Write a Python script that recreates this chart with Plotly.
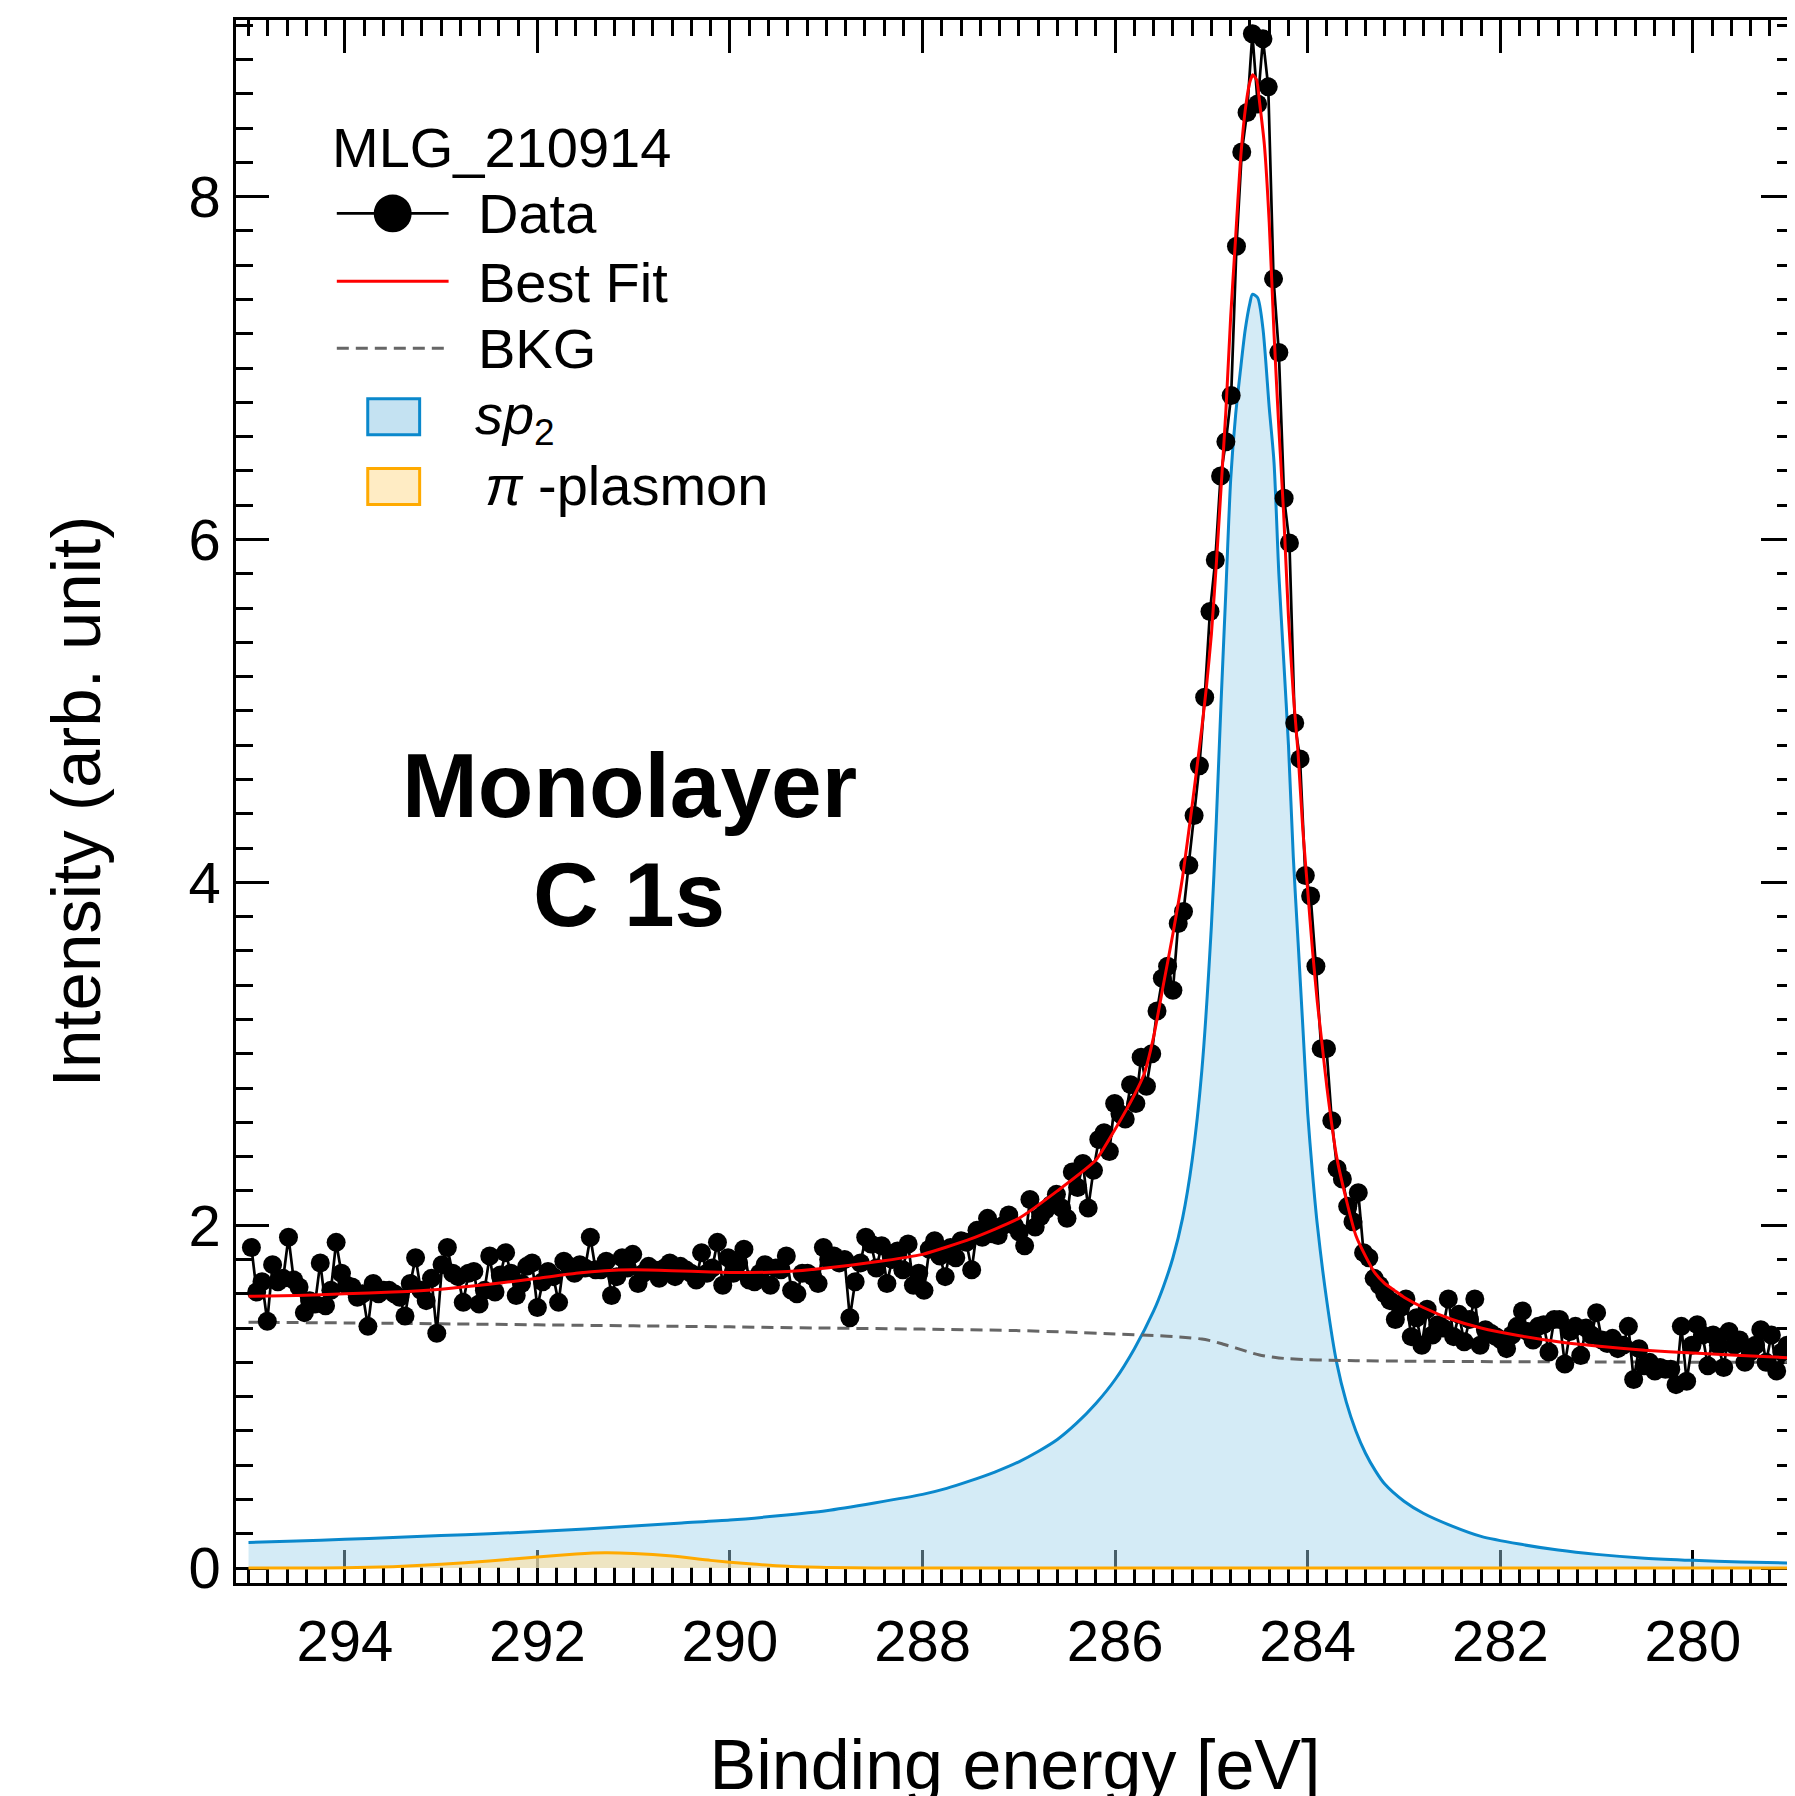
import plotly.graph_objects as go

# ---------------- data ----------------
E_START = 294.97   # first sample (eV)
E_STEP = 0.055     # sampling step (eV)

data_I = [
    1.87, 1.61, 1.67, 1.44, 1.77, 1.67, 1.69, 1.93, 1.68, 1.64,
    1.49, 1.56, 1.54, 1.78, 1.53, 1.62, 1.90, 1.72, 1.65, 1.64,
    1.58, 1.60, 1.41, 1.66, 1.60, 1.62, 1.62, 1.60, 1.58, 1.47,
    1.66, 1.81, 1.62, 1.56, 1.69, 1.37, 1.77, 1.87, 1.72, 1.70,
    1.55, 1.72, 1.73, 1.54, 1.62, 1.82, 1.61, 1.71, 1.84, 1.72,
    1.59, 1.66, 1.76, 1.78, 1.52, 1.67, 1.73, 1.70, 1.55, 1.79,
    1.76, 1.72, 1.77, 1.75, 1.93, 1.74, 1.74, 1.79, 1.59, 1.70,
    1.81, 1.75, 1.83, 1.66, 1.72, 1.76, 1.74, 1.69, 1.75, 1.78,
    1.70, 1.76, 1.74, 1.72, 1.68, 1.84, 1.72, 1.75, 1.90, 1.65,
    1.81, 1.72, 1.78, 1.86, 1.68, 1.67, 1.72, 1.77, 1.65, 1.75,
    1.74, 1.82, 1.62, 1.60, 1.72, 1.72, 1.70, 1.66, 1.87, 1.80,
    1.82, 1.78, 1.80, 1.46, 1.67, 1.78, 1.93, 1.89, 1.75, 1.88,
    1.66, 1.80, 1.85, 1.74, 1.89, 1.65, 1.72, 1.62, 1.86, 1.91,
    1.82, 1.70, 1.87, 1.81, 1.91, 1.90, 1.74, 1.97, 1.93, 2.04,
    1.95, 1.94, 2.00, 2.06, 2.00, 1.96, 1.88, 2.15, 1.99, 2.05,
    2.09, 2.12, 2.18, 2.10, 2.04, 2.31, 2.22, 2.36, 2.10, 2.32,
    2.50, 2.54, 2.43, 2.71, 2.65, 2.62, 2.82, 2.71, 2.98, 2.81,
    3.00, 3.25, 3.44, 3.51, 3.37, 3.76, 3.83, 4.10, 4.39, 4.68,
    5.08, 5.58, 5.88, 6.37, 6.57, 6.84, 7.71, 8.26, 8.49, 8.95,
    8.54, 8.92, 8.64, 7.52, 7.09, 6.24, 5.98, 4.93, 4.72, 4.04,
    3.92, 3.51, 3.03, 3.03, 2.61, 2.33, 2.27, 2.11, 2.02, 2.19,
    1.84, 1.81, 1.69, 1.65, 1.60, 1.56, 1.45, 1.52, 1.57, 1.35,
    1.46, 1.30, 1.51, 1.36, 1.42, 1.40, 1.57, 1.35, 1.48, 1.32,
    1.45, 1.57, 1.30, 1.39, 1.37, 1.35, 1.33, 1.28, 1.36, 1.41,
    1.50, 1.38, 1.33, 1.41, 1.42, 1.26, 1.45, 1.45, 1.19, 1.38,
    1.41, 1.24, 1.40, 1.36, 1.49, 1.33, 1.31, 1.34, 1.28, 1.30,
    1.41, 1.10, 1.28, 1.18, 1.20, 1.15, 1.17, 1.16, 1.16, 1.07,
    1.41, 1.09, 1.30, 1.42, 1.36, 1.18, 1.36, 1.30, 1.17, 1.38,
    1.30, 1.33, 1.20, 1.26, 1.30, 1.39, 1.20, 1.36, 1.15, 1.26,
    1.30,
]
data_E = [round(E_START - i * E_STEP, 3) for i in range(len(data_I))]

fit_E = [295.0, 294.5, 294.0, 293.5, 293.0, 292.5, 292.0, 291.6, 291.3, 291.0,
         290.6, 290.2, 289.8, 289.4, 289.0, 288.5, 288.0, 287.5, 287.0, 286.6,
         286.2, 286.0, 285.8, 285.7, 285.6, 285.5, 285.4, 285.3, 285.2, 285.1,
         285.05, 285.0, 284.95, 284.9, 284.85, 284.8, 284.75, 284.7, 284.65, 284.6,
         284.57, 284.53, 284.5, 284.45, 284.4, 284.35, 284.3, 284.25, 284.2, 284.15,
         284.1, 284.05, 284.0, 283.95, 283.9, 283.85, 283.8, 283.7, 283.6, 283.5,
         283.4, 283.3, 283.2, 283.1, 283.0, 282.8, 282.5, 282.2, 281.8, 281.4,
         281.0, 280.5, 280.0, 279.5, 279.0]
fit_I = [1.585, 1.59, 1.60, 1.61, 1.627, 1.655, 1.69, 1.72, 1.735, 1.74,
         1.735, 1.727, 1.724, 1.73, 1.75, 1.785, 1.83, 1.92, 2.04, 2.2,
         2.38, 2.56, 2.76, 2.88, 3.1, 3.4, 3.7, 4.03, 4.45, 4.9,
         5.15, 5.45, 5.85, 6.3, 6.75, 7.3, 7.75, 8.2, 8.5, 8.67,
         8.71, 8.68, 8.55, 8.3, 7.85, 7.2, 6.65, 6.15, 5.55, 5.1,
         4.75, 4.3, 3.95, 3.6, 3.3, 3.05, 2.8, 2.4, 2.15, 1.94,
         1.82, 1.72, 1.66, 1.62, 1.58, 1.52, 1.45, 1.40, 1.355, 1.32,
         1.295, 1.27, 1.255, 1.24, 1.227]

bkg_E = [295.0, 294.0, 293.0, 292.0, 291.0, 290.0, 289.0, 288.0, 287.0, 286.5,
         286.0, 285.6, 285.3, 285.1, 285.0, 284.9, 284.8, 284.7, 284.6, 284.5,
         284.4, 284.3, 284.2, 284.0, 283.8, 283.5, 283.0, 282.0, 281.0, 280.0,
         279.0]
bkg_I = [1.434, 1.430, 1.425, 1.419, 1.413, 1.407, 1.400, 1.394, 1.385, 1.377,
         1.366, 1.357, 1.347, 1.336, 1.325, 1.31, 1.293, 1.276, 1.258, 1.243,
         1.233, 1.226, 1.221, 1.216, 1.213, 1.21, 1.207, 1.204, 1.202, 1.201,
         1.200]

sp2_E = [295.0, 294.5, 294.0, 293.5, 293.0, 292.5, 292.0, 291.5, 291.0, 290.5,
         290.0, 289.5, 289.0, 288.5, 288.0, 287.75, 287.5, 287.25, 287.0, 286.8,
         286.6, 286.4, 286.2, 286.0, 285.8, 285.6, 285.5, 285.4, 285.3, 285.2,
         285.1, 285.0, 284.95, 284.9, 284.85, 284.8, 284.75, 284.7, 284.65, 284.6,
         284.575, 284.52, 284.465, 284.4, 284.35, 284.3, 284.25, 284.2, 284.15, 284.1,
         284.05, 284.0, 283.95, 283.9, 283.8, 283.7, 283.6, 283.5, 283.4, 283.3,
         283.2, 283.0, 282.8, 282.5, 282.2, 281.8, 281.4, 281.0, 280.5, 280.0,
         279.5, 279.0]
sp2_I = [0.149, 0.158, 0.168, 0.178, 0.19, 0.2, 0.213, 0.228, 0.245, 0.263,
         0.28, 0.305, 0.335, 0.38, 0.43, 0.465, 0.51, 0.56, 0.62, 0.68,
         0.75, 0.845, 0.96, 1.10, 1.28, 1.50, 1.64, 1.81, 2.04, 2.38,
         2.90, 3.75, 4.35, 5.05, 5.7, 6.35, 6.72, 6.98, 7.22, 7.38,
         7.43, 7.41, 7.23, 6.77, 6.45, 5.8, 5.3, 4.8, 4.15, 3.65,
         3.15, 2.65, 2.3, 2.0, 1.55, 1.2, 0.97, 0.8, 0.67, 0.57,
         0.49, 0.39, 0.32, 0.245, 0.185, 0.14, 0.105, 0.08, 0.058, 0.045,
         0.036, 0.03]

pl_E = [295.0, 294.5, 294.0, 293.5, 293.0, 292.5, 292.0, 291.6, 291.3, 291.0,
        290.6, 290.2, 289.8, 289.4, 289.0, 288.5, 288.0, 279.0]
pl_I = [0.0, 0.0005, 0.002, 0.008, 0.022, 0.042, 0.065, 0.082, 0.089, 0.085,
        0.07, 0.045, 0.025, 0.01, 0.004, 0.001, 0.0, 0.0]

x_major_ticks = 2
x_mid_ticks = 1
x_minor_ticks = 0.2
y_major_ticks = 2
y_mid_ticks = 1
y_minor_ticks = 0.2

# ---------------- styling ----------------
W, H = 1795, 1796
OFF = 8                      # page body margin offset
ML, MR, MT, MB = 228, 6, 12, 216
X_RANGE = [295.13, 278.95]
Y_RANGE = [-0.087, 9.03]
FONT = "Liberation Sans, Arial, Helvetica, sans-serif"

C_SP2 = "#0a88cc"
F_SP2 = "rgba(160,210,235,0.45)"
C_PL = "#ffaa00"
F_PL = "rgba(255,225,160,0.6)"
C_BKG = "#666666"

fig = go.Figure()
fig.add_trace(go.Scatter(x=sp2_E, y=sp2_I, mode="lines", name="sp2",
                         line=dict(color=C_SP2, width=3, shape="spline", smoothing=0.7),
                         fill="tozeroy", fillcolor=F_SP2, showlegend=False))
fig.add_trace(go.Scatter(x=pl_E, y=pl_I, mode="lines", name="π-plasmon",
                         line=dict(color=C_PL, width=3, shape="spline", smoothing=0.6),
                         fill="tozeroy", fillcolor=F_PL, showlegend=False))
fig.add_trace(go.Scatter(x=bkg_E, y=bkg_I, mode="lines", name="BKG",
                         line=dict(color=C_BKG, width=3, dash="12px,7px",
                                   shape="spline", smoothing=0.6),
                         showlegend=False))
fig.add_trace(go.Scatter(x=data_E, y=data_I, mode="lines+markers", name="Data",
                         line=dict(color="black", width=2.7),
                         marker=dict(color="black", size=19, line=dict(width=0)),
                         showlegend=False))
fig.add_trace(go.Scatter(x=fit_E, y=fit_I, mode="lines", name="Best Fit",
                         line=dict(color="#ff0000", width=3, shape="spline", smoothing=0.5),
                         showlegend=False))

common = dict(showline=True, linecolor="black", linewidth=2.5, mirror="allticks",
              ticks="inside", tickcolor="black", tickwidth=2.5,
              showgrid=False, zeroline=False, layer="below traces",
              tickfont=dict(family=FONT, size=58, color="black"))

fig.update_layout(
    width=W, height=H,
    margin=dict(l=ML, r=MR, t=MT, b=MB, pad=0),
    paper_bgcolor="white", plot_bgcolor="white",
    font=dict(family=FONT, color="black"),
    showlegend=False,
    xaxis=dict(range=X_RANGE, dtick=x_major_ticks, tick0=0, ticklen=33,
               minor=dict(ticks="inside", dtick=x_minor_ticks, tick0=0, ticklen=16,
                          tickwidth=2.5, tickcolor="black", showgrid=False),
               ticklabelstandoff=6,
               title=dict(text="Binding energy [eV]", font=dict(family=FONT, size=70),
                          standoff=76),
               **common),
    xaxis2=dict(range=X_RANGE, overlaying="x", anchor="y", dtick=x_mid_ticks, tick0=0,
                ticklen=25, showticklabels=False, **common),
    yaxis=dict(range=Y_RANGE, dtick=y_major_ticks, tick0=0, ticklen=33,
               minor=dict(ticks="inside", dtick=y_minor_ticks, tick0=0, ticklen=17,
                          tickwidth=2.5, tickcolor="black", showgrid=False),
               ticklabelstandoff=1,
               title=dict(text="Intensity (arb. unit)", font=dict(family=FONT, size=69),
                          standoff=66),
               **common),
    yaxis2=dict(range=Y_RANGE, overlaying="y", anchor="x", dtick=y_mid_ticks, tick0=0,
                ticklen=25, showticklabels=False, **common),
)

# ---------------- in-plot text (positions given in page pixels) ----------------
def px_x(x):
    return (x - OFF - ML) / (W - ML - MR)

def px_y(y):
    return (H - MB - (y - OFF)) / (H - MB - MT)

annos = [
    dict(text="<b>Monolayer</b>", x=px_x(630), y=px_y(788), size=91, xanchor="center"),
    dict(text="<b>C 1s</b>", x=px_x(630), y=px_y(897), size=91, xanchor="center"),
    dict(text="MLG_210914", x=px_x(330), y=px_y(147.6), size=56, xanchor="left"),
    dict(text="Data", x=px_x(476.5), y=px_y(214.3), size=56, xanchor="left"),
    dict(text="Best Fit", x=px_x(476.5), y=px_y(283), size=56, xanchor="left"),
    dict(text="BKG", x=px_x(476.5), y=px_y(349.5), size=56, xanchor="left"),
    dict(text="<i>sp</i>", x=px_x(473), y=px_y(416), size=56, xanchor="left"),
    dict(text="2", x=px_x(533), y=px_y(434), size=37, xanchor="left"),
    dict(text="<i>π</i> -plasmon", x=px_x(483.5), y=px_y(486.9), size=56, xanchor="left"),
]
for a in annos:
    fig.add_annotation(text=a["text"], x=a["x"], y=a["y"], xref="paper", yref="paper",
                       xanchor=a["xanchor"], yanchor="middle", showarrow=False,
                       font=dict(family=FONT, size=a["size"], color="black"))

# legend symbols (paper coordinates)
ly_data, ly_fit, ly_bkg = px_y(214), px_y(282), px_y(349.4)
fig.add_shape(type="line", xref="paper", yref="paper", x0=px_x(337), x1=px_x(449),
              y0=ly_data, y1=ly_data, line=dict(color="black", width=2.7))
fig.add_shape(type="circle", xref="paper", yref="paper", x0=px_x(374), x1=px_x(412),
              y0=px_y(233), y1=px_y(195), fillcolor="black", line=dict(width=0))
fig.add_shape(type="line", xref="paper", yref="paper", x0=px_x(337), x1=px_x(449),
              y0=ly_fit, y1=ly_fit, line=dict(color="#ff0000", width=3))
fig.add_shape(type="line", xref="paper", yref="paper", x0=px_x(337), x1=px_x(449),
              y0=ly_bkg, y1=ly_bkg, line=dict(color=C_BKG, width=3, dash="12px,7px"))
fig.add_shape(type="rect", xref="paper", yref="paper", x0=px_x(368), x1=px_x(420),
              y0=px_y(436), y1=px_y(400), fillcolor="rgb(196,226,242)",
              line=dict(color=C_SP2, width=3))
fig.add_shape(type="rect", xref="paper", yref="paper", x0=px_x(368), x1=px_x(420),
              y0=px_y(506), y1=px_y(470), fillcolor="rgb(255,236,196)",
              line=dict(color=C_PL, width=3))

fig.write_html("out.html")
